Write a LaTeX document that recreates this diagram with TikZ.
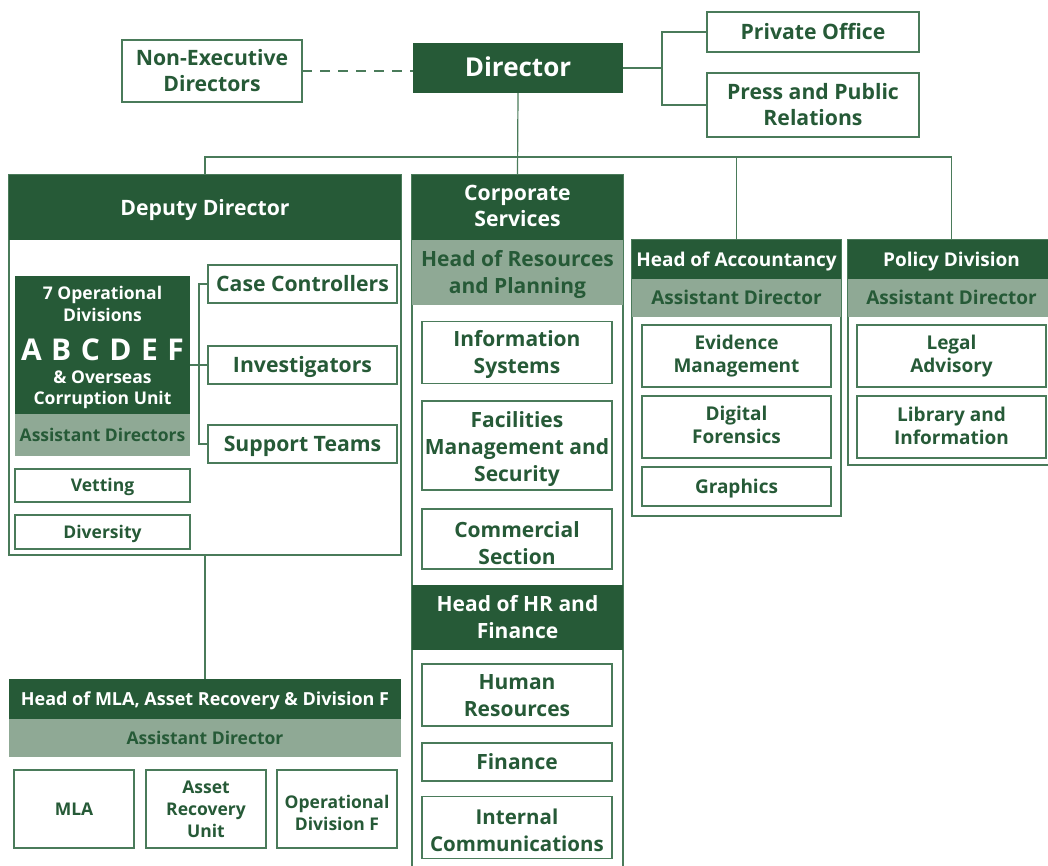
\documentclass[tikz,border=0pt]{standalone}
\usepackage{fontspec}
\setmainfont{Open Sans}
\definecolor{dg}{HTML}{265A37}
\definecolor{lg}{HTML}{8FA995}
\definecolor{lc}{HTML}{4A7B5A}
\newcommand\myfx{\fontsize{26}{30}\selectfont\bfseries}
\newcommand\myfa{\fontsize{21.2}{26}\selectfont\bfseries}
\newcommand\myfd{\fontsize{21}{27}\selectfont\bfseries}
\newcommand\myfb{\fontsize{17.5}{22}\selectfont\bfseries}
\newcommand\myfc{\fontsize{19}{23.5}\selectfont\bfseries}
\newcommand\myfm{\fontsize{18}{22}\selectfont\bfseries}
\begin{document}
\begin{tikzpicture}[x=1pt,y=-1pt,
  every node/.style={inner sep=0pt, outer sep=0pt, align=center},
  wbox/.style={draw=lc, line width=1.2pt, fill=white, text=dg},
  frame/.style={draw=lc, line width=1.2pt, fill=white},
  hdr/.style={fill=dg, text=white},
  sub/.style={fill=lg, text=dg},
  conn/.style={draw=lc, line width=1.2pt},
  th/.style={text height=#1, text depth=0pt},
  fx1/.style={font=\myfx, th=16.6pt},
  fa1/.style={font=\myfa, th=15.1pt},
  fa2/.style={font=\myfa, th=41.1pt},
  fd1/.style={font=\myfd, th=15pt},
  fd2/.style={font=\myfd, th=42pt},
  fd3/.style={font=\myfd, th=69pt},
  fb1/.style={font=\myfb, th=12.5pt},
  fb2/.style={font=\myfb, th=34.5pt},
  fb3/.style={font=\myfb, th=56.5pt},
  fc1/.style={font=\myfc, th=13.6pt},
  fc2/.style={font=\myfc, th=33.6pt},
  fm1/.style={font=\myfm, th=12.9pt}]
\useasboundingbox (0,0) rectangle (1048,865);
\fill[white] (0,0) rectangle (1048,865);

% top
\node[wbox, fa2, minimum width=180pt, minimum height=62pt] (nonexec) at (212,71) {Non-Executive\\Directors};
\node[hdr, fx1, minimum width=210pt, minimum height=50pt] (director) at (518,68) {Director};
\node[wbox, fa1, minimum width=212pt, minimum height=40pt] (privoff) at (813,32) {Private Office};
\node[wbox, fa2, minimum width=212pt, minimum height=64pt] (press) at (813,105) {Press and Public\\Relations};

% deputy
\node[frame, anchor=north west, minimum width=392pt, minimum height=380pt] (depframe) at (9,175) {};
\node[hdr, fa1, anchor=north west, minimum width=392pt, minimum height=65pt] (dephdr) at (9,175) {Deputy Director};
\node[hdr, anchor=north west, minimum width=175pt, minimum height=138pt] (opdiv) at (15,276) {};
\node[text=white, fb2] (optxa) at (102.5,304) {7 Operational\\Divisions};
\node[text=white, font=\fontsize{30}{32}\selectfont\bfseries, th=21.4pt] (optxb) at (102.5,350) {A\hspace{9.5pt}B\hspace{9.5pt}C\hspace{9.5pt}D\hspace{9.5pt}E\hspace{9.5pt}F};
\node[text=white, font=\fontsize{17.5}{21}\selectfont\bfseries, th=33.5pt] (optxc) at (102.5,387.5) {\& Overseas\\Corruption Unit};
\node[sub, fb1, anchor=north west, minimum width=175pt, minimum height=42pt] (opad) at (15,414) {Assistant Directors};
\node[wbox, fa1, minimum width=189pt, minimum height=38pt] (case) at (302.5,284) {Case Controllers};
\node[wbox, fa1, minimum width=189pt, minimum height=38pt] (inv) at (302.5,365) {Investigators};
\node[wbox, fa1, minimum width=189pt, minimum height=38pt] (supp) at (302.5,444) {Support Teams};
\node[wbox, fb1, minimum width=175pt, minimum height=33pt] (vet) at (102.5,485.5) {Vetting};
\node[wbox, fb1, minimum width=175pt, minimum height=34pt] (divers) at (102.5,532) {Diversity};

% MLA
\node[hdr, fm1, anchor=north west, minimum width=392pt, minimum height=40pt] (mlahdr) at (9,679) {Head of MLA, Asset Recovery \& Division F};
\node[sub, fb1, anchor=north west, minimum width=392pt, minimum height=38pt] (mlaad) at (9,719) {Assistant Director};
\node[wbox, fb1, minimum width=120pt, minimum height=78pt] (mla) at (74,809) {MLA};
\node[wbox, fb3, minimum width=120pt, minimum height=78pt] (aru) at (206,809) {Asset\\Recovery\\Unit};
\node[wbox, fb2, th=42.5pt, minimum width=120pt, minimum height=78pt] (opf) at (337,809) {Operational\\Division F};

% corporate
\node[frame, anchor=north west, minimum width=211pt, minimum height=695pt] (corpframe) at (412,175) {};
\node[hdr, fa2, th=37.1pt, anchor=north west, minimum width=211pt, minimum height=65pt] (corphdr) at (412,175) {Corporate\\Services};
\node[sub, fd2, anchor=north west, minimum width=211pt, minimum height=65pt] (corpres) at (412,240) {Head of Resources\\and Planning};
\node[wbox, fd2, minimum width=190pt, minimum height=62pt] (infosys) at (517,352.5) {Information\\Systems};
\node[wbox, fd3, th=72pt, minimum width=190pt, minimum height=89pt] (fac) at (517,445.5) {Facilities\\Management and\\Security};
\node[wbox, fd2, th=50pt, minimum width=190pt, minimum height=60pt] (comm) at (517,539) {Commercial\\Section};
\node[hdr, fd2, anchor=north west, minimum width=211pt, minimum height=65pt] (hrhdr) at (412,585) {Head of HR and\\Finance};
\node[wbox, fd2, minimum width=190pt, minimum height=62pt] (hr) at (517,695) {Human\\Resources};
\node[wbox, fd1, minimum width=190pt, minimum height=38pt] (fin) at (517,762) {Finance};
\node[wbox, font=\fontsize{20.5}{27}\selectfont\bfseries, th=47.6pt, minimum width=190pt, minimum height=62pt] (icomm) at (517,827.5) {Internal\\Communications};

% accountancy
\node[frame, anchor=north west, minimum width=209pt, minimum height=276pt] (accframe) at (632,240) {};
\node[hdr, fc1, anchor=north west, minimum width=209pt, minimum height=39pt] (acchdr) at (632,240) {Head of Accountancy};
\node[sub, fc1, anchor=north west, minimum width=209pt, minimum height=38pt] (accad) at (632,279) {Assistant Director};
\node[wbox, fc2, minimum width=189pt, minimum height=62pt] (evid) at (736.5,356) {Evidence\\Management};
\node[wbox, fc2, minimum width=189pt, minimum height=62pt] (digi) at (736.5,427) {Digital\\Forensics};
\node[wbox, fc1, minimum width=189pt, minimum height=39pt] (graph) at (736.5,486.5) {Graphics};

% policy
\node[frame, anchor=north west, minimum width=207pt, minimum height=225pt] (polframe) at (848,240) {};
\node[hdr, fc1, anchor=north west, minimum width=207pt, minimum height=39pt] (polhdr) at (848,240) {Policy Division};
\node[sub, fc1, anchor=north west, minimum width=207pt, minimum height=38pt] (polad) at (848,279) {Assistant Director};
\node[wbox, fc2, minimum width=189pt, minimum height=62pt] (legal) at (951.5,356) {Legal\\Advisory};
\node[wbox, fc2, th=35pt, minimum width=189pt, minimum height=62pt] (lib) at (951.5,427) {Library and\\Information};

% connectors
\coordinate (bus) at (0,157);
\coordinate (dirj) at (662,68);
\coordinate (opj) at (199,365);
\draw[conn, dash pattern=on 10pt off 8pt] (nonexec.east) -- (nonexec.east -| director.west);
\draw[conn] (director.east) -- (dirj);
\draw[conn] (privoff.west) -| (dirj) |- (press.west);
\draw[conn] (director.south) -- (corpframe.north);
\draw[conn] (depframe.north) -- (depframe.north |- bus) -- (polframe.north |- bus) -- (polframe.north);
\draw[conn] (accframe.north) -- (accframe.north |- bus);
\draw[conn] (depframe.south) -- (mlahdr.north);
\draw[conn] (opdiv.east |- opj) -- (opj);
\draw[conn] (case.west) -| (opj) |- (supp.west);
\draw[conn] (opj) -- (inv.west);
\end{tikzpicture}
\end{document}
